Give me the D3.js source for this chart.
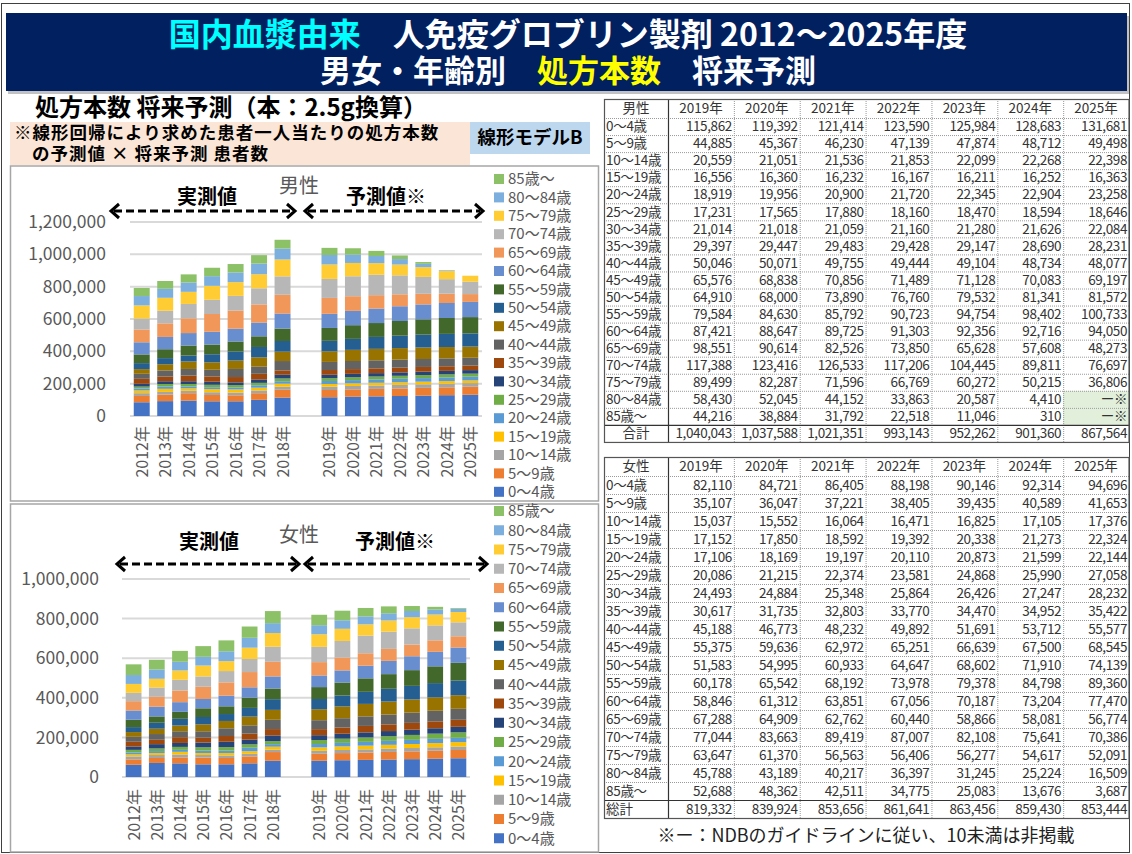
<!DOCTYPE html>
<html lang="ja">
<head>
<meta charset="UTF-8">
<title>処方本数 将来予測</title>
<script src="https://cdn.jsdelivr.net/npm/d3@7"></script>
<style>
  body { margin: 0; background: #fff; }
  svg { display: block; font-family: "Noto Sans CJK JP", "Noto Sans", sans-serif; }
</style>
</head>
<body>
<svg id="canvas" width="1132" height="854"></svg>
<script>
  const ages = ["0～4歳", "5～9歳", "10～14歳", "15～19歳", "20～24歳", "25～29歳", "30～34歳", "35～39歳", "40～44歳",
    "45～49歳", "50～54歳", "55～59歳", "60～64歳", "65～69歳", "70～74歳", "75～79歳", "80～84歳", "85歳～"];
  const years = ["2012年", "2013年", "2014年", "2015年", "2016年", "2017年", "2018年",
    "2019年", "2020年", "2021年", "2022年", "2023年", "2024年", "2025年"];
  const colors = ["#4472C4", "#ED7D31", "#A5A5A5", "#FFC000", "#5B9BD5", "#70AD47", "#264478", "#9E480E", "#636363",
    "#997300", "#255E91", "#43682B", "#698ED0", "#F1975A", "#B7B7B7", "#FFCD33", "#7CAFDD", "#8CC168"];

  // rows = age groups, columns = 2012..2025 (2012-2018, 2019-2025 from the table)
  const male = [
    [85000, 92000, 95000, 91000, 91000, 100000, 114000, 115862, 119392, 121414, 123590, 125984, 128683, 131681],
    [39000, 40000, 46000, 39000, 37000, 41000, 48000, 44885, 45367, 46230, 47139, 47874, 48712, 49498],
    [17000, 17000, 15000, 17000, 17000, 17000, 19000, 20559, 21051, 21536, 21853, 22099, 22268, 22398],
    [17000, 19000, 15000, 19000, 19000, 17000, 19000, 16556, 16360, 16232, 16167, 16211, 16252, 16363],
    [12000, 15000, 12000, 12000, 12000, 15000, 15000, 18919, 19956, 20900, 21720, 22345, 22904, 23258],
    [12000, 15000, 15000, 15000, 15000, 15000, 17000, 17231, 17565, 17880, 18160, 18470, 18594, 18646],
    [17000, 17000, 17000, 19000, 17000, 21000, 23000, 21014, 21018, 21059, 21160, 21280, 21626, 22084],
    [31000, 29000, 35000, 33000, 33000, 35000, 27000, 29397, 29447, 29483, 29428, 29147, 28690, 28231],
    [31000, 38000, 41000, 41000, 50000, 44000, 58000, 50046, 50071, 49755, 49444, 49104, 48734, 48077],
    [29000, 38000, 46000, 46000, 52000, 58000, 58000, 65576, 68838, 70856, 71489, 71128, 70083, 69197],
    [37000, 38000, 37000, 50000, 56000, 64000, 66000, 64910, 68000, 73890, 76760, 79532, 81341, 81572],
    [54000, 55000, 62000, 60000, 62000, 66000, 77000, 79584, 84630, 85792, 90723, 94754, 98402, 100733],
    [75000, 76000, 77000, 79000, 79000, 85000, 93000, 87421, 88647, 89725, 91303, 92356, 92716, 94050],
    [79000, 84000, 91000, 110000, 112000, 112000, 116000, 98551, 90614, 82526, 73850, 65628, 57608, 48273],
    [68000, 78000, 89000, 88000, 91000, 100000, 114000, 117388, 123416, 126533, 117206, 104445, 89811, 76697],
    [81000, 80000, 75000, 86000, 85000, 87000, 104000, 89499, 82287, 71596, 66769, 60272, 50215, 36806],
    [58000, 56000, 58000, 60000, 60000, 66000, 68000, 58430, 52045, 44152, 33863, 20587, 4410, null],
    [50000, 48000, 50000, 52000, 52000, 52000, 54000, 44216, 38884, 31792, 22518, 11046, 310, null]
  ];
  const female = [
    [62000, 71000, 69000, 64000, 64000, 69000, 82000, 82110, 84721, 86405, 88198, 90146, 92314, 94696],
    [27000, 25000, 30000, 34000, 32000, 35000, 44000, 35107, 36047, 37221, 38405, 39435, 40589, 41653],
    [15000, 15000, 15000, 13000, 13000, 13000, 12000, 15037, 15552, 16064, 16471, 16825, 17105, 17376],
    [10000, 10000, 13000, 10000, 12000, 13000, 15000, 17152, 17850, 18592, 19392, 20338, 21273, 22324],
    [10000, 10000, 10000, 12000, 12000, 18000, 13000, 17106, 18169, 19197, 20110, 20873, 21599, 22144],
    [13000, 13000, 15000, 17000, 18000, 17000, 15000, 20086, 21215, 22374, 23581, 24868, 25990, 27058],
    [17000, 22000, 20000, 24000, 27000, 24000, 29000, 24493, 24884, 25348, 25864, 26426, 27247, 28232],
    [24000, 22000, 29000, 25000, 29000, 30000, 32000, 30617, 31735, 32803, 33770, 34470, 34952, 35422],
    [25000, 29000, 30000, 32000, 39000, 42000, 47000, 45188, 46773, 48232, 49892, 51691, 53712, 55577],
    [24000, 27000, 29000, 35000, 37000, 44000, 50000, 55375, 59636, 62972, 65251, 66639, 67500, 68545],
    [25000, 30000, 34000, 37000, 35000, 44000, 54000, 51583, 54995, 60933, 64647, 68602, 71910, 74139],
    [37000, 32000, 35000, 44000, 39000, 52000, 54000, 60178, 65542, 68192, 73978, 79378, 84798, 89360],
    [47000, 49000, 49000, 47000, 54000, 52000, 61000, 58846, 61312, 63851, 67056, 70187, 73204, 77470],
    [47000, 50000, 59000, 62000, 67000, 77000, 74000, 67288, 64909, 62762, 60440, 58866, 58081, 56774],
    [42000, 47000, 54000, 52000, 57000, 66000, 76000, 77044, 83663, 89419, 87007, 82108, 75641, 70386],
    [45000, 44000, 47000, 55000, 50000, 57000, 69000, 63647, 61370, 56563, 56406, 56277, 54617, 52091],
    [45000, 47000, 44000, 44000, 50000, 50000, 50000, 45788, 43189, 40217, 36397, 31245, 25224, 16509],
    [54000, 49000, 55000, 54000, 55000, 57000, 61000, 52688, 48362, 42511, 34775, 25083, 13676, 3687]
  ];
  const maleTotals = [1040043, 1037588, 1021351, 993143, 952262, 901360, 867564];
  const femaleTotals = [819332, 839924, 853656, 861641, 863456, 859430, 853444];
  const forecastStart = 7;
  const maleTicks = [0, 200000, 400000, 600000, 800000, 1000000, 1200000];
  const femaleTicks = [0, 200000, 400000, 600000, 800000, 1000000];

  const svg = d3.select("#canvas");
  const fmt = d3.format(",");

  // outer frame
  svg.append("rect").attr("x", 1.5).attr("y", 3.5).attr("width", 1128).attr("height", 849)
      .attr("fill", "none").attr("stroke", "#404040").attr("stroke-width", 1);

  // title banner
  svg.append("rect").attr("x", 8).attr("y", 16).attr("width", 1121).attr("height", 78).attr("fill", "#9a9a9a").attr("opacity", 0.6);
  svg.append("rect").attr("x", 6).attr("y", 13).attr("width", 1121).attr("height", 78).attr("fill", "#002060");
  let t1 = svg.append("text").attr("x", 568).attr("y", 46).attr("text-anchor", "middle")
      .attr("font-size", 32).attr("font-weight", 700).attr("fill", "#fff");
  t1.append("tspan").attr("fill", "#00FFFF").text("国内血漿由来");
  t1.append("tspan").text("　人免疫グロブリン製剤 2012～2025年度");
  let t2 = svg.append("text").attr("x", 568).attr("y", 82).attr("text-anchor", "middle")
      .attr("font-size", 31).attr("font-weight", 700).attr("fill", "#fff");
  t2.append("tspan").text("男女・年齢別　");
  t2.append("tspan").attr("fill", "#FFFF00").text("処方本数");
  t2.append("tspan").text("　将来予測");

  // left headings
  svg.append("text").attr("x", 35).attr("y", 116).attr("font-size", 24).attr("font-weight", 700)
      .attr("fill", "#000").text("処方本数 将来予測（本：2.5g換算）");
  svg.append("rect").attr("x", 10).attr("y", 122).attr("width", 460).attr("height", 43).attr("fill", "#FBE5D6");
  svg.append("text").attr("x", 14).attr("y", 139).attr("font-size", 17.5).attr("font-weight", 700)
      .attr("letter-spacing", 1).text("※線形回帰により求めた患者一人当たりの処方本数");
  svg.append("text").attr("x", 32).attr("y", 160).attr("font-size", 17.5).attr("font-weight", 700)
      .attr("letter-spacing", 1).text("の予測値 × 将来予測 患者数");
  svg.append("rect").attr("x", 470).attr("y", 122).attr("width", 120).attr("height", 32).attr("fill", "#BDD7EE");
  svg.append("text").attr("x", 530).attr("y", 144).attr("text-anchor", "middle").attr("font-size", 18.5)
      .attr("font-weight", 700).text("線形モデルB");

  function arrow(g, x1, x2, y) {
    g.append("line").attr("x1", x1 + 3).attr("x2", x2 - 3).attr("y1", y).attr("y2", y)
        .attr("stroke", "#000").attr("stroke-width", 3).attr("stroke-dasharray", "8,4");
    g.append("path").attr("d", `M${x1 + 8},${y - 7}L${x1},${y}L${x1 + 8},${y + 7}`)
        .attr("fill", "none").attr("stroke", "#000").attr("stroke-width", 3);
    g.append("path").attr("d", `M${x2 - 8},${y - 7}L${x2},${y}L${x2 - 8},${y + 7}`)
        .attr("fill", "none").attr("stroke", "#000").attr("stroke-width", 3);
  }

  function drawChart(cfg) {
    const g = svg.append("g");
    g.append("rect").attr("x", 10.5).attr("y", cfg.top).attr("width", 588).attr("height", cfg.bottom - cfg.top)
        .attr("fill", "#fff").attr("stroke", "#A6A6A6").attr("stroke-width", 1.5);

    const cats = [...years.slice(0, forecastStart), " ", ...years.slice(forecastStart)];
    const x = d3.scaleBand().domain(cats).range(cfg.xRange).paddingInner(0.32).paddingOuter(0.16);
    const y = d3.scaleLinear().domain([0, cfg.ticks[cfg.ticks.length - 1]]).range(cfg.yRange);

    const rows = years.map((yr, i) => {
      const r = {year: yr};
      ages.forEach((a, j) => r[a] = cfg.data[j][i] == null ? 0 : cfg.data[j][i]);
      return r;
    });
    const series = d3.stack().keys(ages)(rows);

    // gridlines + y labels
    g.selectAll(".grid").data(cfg.ticks).join("line")
        .attr("x1", cfg.xRange[0]).attr("x2", cfg.xRange[1])
        .attr("y1", d => y(d)).attr("y2", d => y(d))
        .attr("stroke", "#D9D9D9").attr("stroke-width", 2);
    g.selectAll(".ylab").data(cfg.ticks).join("text")
        .attr("x", cfg.labelX).attr("y", d => y(d)).attr("dy", "0.35em")
        .attr("text-anchor", "end").attr("font-size", 17.5).attr("fill", "#595959")
        .text(d => fmt(d));

    g.selectAll(".layer").data(series).join("g")
        .attr("fill", (d, i) => colors[i])
        .selectAll("rect").data(d => d).join("rect")
        .attr("x", d => x(d.data.year)).attr("width", x.bandwidth())
        .attr("y", d => y(d[1])).attr("height", d => y(d[0]) - y(d[1]));

    // year labels (rotated)
    g.selectAll(".xlab").data(years).join("text")
        .attr("transform", d => `translate(${x(d) + x.bandwidth() / 2 + 6},${cfg.yRange[0] + cfg.xlabGap}) rotate(-90)`)
        .attr("text-anchor", "end").attr("font-size", 16).attr("fill", "#595959")
        .text(d => d);

    // chart texts and arrows
    g.append("text").attr("x", 299).attr("y", cfg.titleY).attr("text-anchor", "middle")
        .attr("font-size", 20).attr("fill", "#595959").text(cfg.title);
    g.append("text").attr("x", cfg.measX).attr("y", cfg.labY).attr("text-anchor", "middle")
        .attr("font-size", 20).attr("font-weight", 700).text("実測値");
    g.append("text").attr("x", cfg.predX).attr("y", cfg.labY).attr("text-anchor", "middle")
        .attr("font-size", 20).attr("font-weight", 700).text("予測値※");
    arrow(g, cfg.arrowL[0], cfg.arrowL[1], cfg.arrowY);
    arrow(g, cfg.arrowR[0], cfg.arrowR[1], cfg.arrowY);

    // legend (85歳～ at top)
    const leg = g.selectAll(".leg").data(ages.slice().reverse()).join("g")
        .attr("transform", (d, i) => `translate(494,${cfg.legTop + i * cfg.legStep})`);
    leg.append("rect").attr("x", 0).attr("y", -5).attr("width", 10).attr("height", 10)
        .attr("fill", d => colors[ages.indexOf(d)]);
    leg.append("text").attr("x", 14).attr("dy", "0.35em").attr("font-size", 15).attr("fill", "#595959")
        .text(d => d);
  }

  drawChart({
    data: male, ticks: maleTicks, top: 166, bottom: 501, xRange: [130, 482], yRange: [416, 222],
    labelX: 106, xlabGap: 10, title: "男性", titleY: 193, measX: 207, predX: 386, labY: 204,
    arrowL: [111, 295], arrowR: [305, 483], arrowY: 211, legTop: 179, legStep: 18.4
  });
  drawChart({
    data: female, ticks: femaleTicks, top: 504, bottom: 852, xRange: [122, 470], yRange: [777, 579],
    labelX: 99, xlabGap: 12, title: "女性", titleY: 542, measX: 209, predX: 395, labY: 549,
    arrowL: [117, 299], arrowR: [305, 487], arrowY: 564, legTop: 511, legStep: 19.25
  });

  // tables
  function drawTable(cfg) {
    const g = svg.append("g").attr("font-size", 13.5).attr("fill", "#333");
    const colX = d3.range(8).map(i => i === 0 ? 604 : 668 + (i - 1) * 65.86);
    const colW = i => i === 0 ? 64 : 65.86;
    const right = 1129;
    const rowTop = i => cfg.bodyTop + i * cfg.rowH;
    const fyears = years.slice(forecastStart);
    const bottom = rowTop(ages.length + 1);

    // green cells for hidden values
    ages.forEach((a, j) => fyears.forEach((yr, k) => {
      if (cfg.data[j][forecastStart + k] == null) {
        g.append("rect").attr("x", colX[k + 1]).attr("y", rowTop(j)).attr("width", colW(k + 1))
            .attr("height", cfg.rowH).attr("fill", "#E2EFDA");
      }
    }));

    // dotted row lines
    d3.range(0, ages.length).forEach(i => {
      g.append("line").attr("x1", 604).attr("x2", right).attr("y1", rowTop(i) + 0.5).attr("y2", rowTop(i) + 0.5)
          .attr("stroke", "#9a9a9a").attr("stroke-width", 1).attr("stroke-dasharray", "1,1");
    });
    // dotted column lines
    d3.range(2, 8).forEach(i => {
      g.append("line").attr("x1", colX[i] + 0.5).attr("x2", colX[i] + 0.5).attr("y1", cfg.top).attr("y2", bottom)
          .attr("stroke", "#9a9a9a").attr("stroke-width", 1).attr("stroke-dasharray", "1,1");
    });
    // solid lines
    g.append("line").attr("x1", 668.5).attr("x2", 668.5).attr("y1", cfg.top).attr("y2", bottom)
        .attr("stroke", "#333").attr("stroke-width", 1.2);
    g.append("line").attr("x1", 604).attr("x2", right).attr("y1", rowTop(ages.length) + 0.5)
        .attr("y2", rowTop(ages.length) + 0.5).attr("stroke", "#333").attr("stroke-width", 1.2);
    g.append("rect").attr("x", 604.5).attr("y", cfg.top + 0.5).attr("width", right - 604.5)
        .attr("height", bottom - cfg.top).attr("fill", "none").attr("stroke", "#555").attr("stroke-width", 1.2);

    // header
    const hy = (cfg.top + cfg.bodyTop) / 2;
    g.append("text").attr("x", 636).attr("y", hy).attr("dy", "0.35em").attr("text-anchor", "middle")
        .text(cfg.title);
    fyears.forEach((yr, k) => {
      g.append("text").attr("x", colX[k + 1] + colW(1) / 2).attr("y", hy).attr("dy", "0.35em")
          .attr("text-anchor", "middle").text(yr);
    });

    // body
    ages.forEach((a, j) => {
      const cy = rowTop(j) + cfg.rowH / 2;
      g.append("text").attr("x", 606).attr("y", cy).attr("dy", "0.35em").attr("letter-spacing", -0.3).text(a);
      fyears.forEach((yr, k) => {
        const v = cfg.data[j][forecastStart + k];
        g.append("text").attr("x", colX[k + 1] + colW(1) - 2).attr("y", cy).attr("dy", "0.35em")
            .attr("text-anchor", "end").attr("letter-spacing", -0.4)
            .text(v == null ? "ー※" : fmt(v));
      });
    });

    // totals
    const ty = rowTop(ages.length) + cfg.rowH / 2;
    g.append("text").attr("x", cfg.totalCenter ? 636 : 606).attr("y", ty).attr("dy", "0.35em")
        .attr("text-anchor", cfg.totalCenter ? "middle" : "start")
        .text(cfg.totalLabel);
    cfg.totals.forEach((v, k) => {
      g.append("text").attr("x", colX[k + 1] + colW(1) - 2).attr("y", ty).attr("dy", "0.35em")
          .attr("text-anchor", "end").attr("letter-spacing", -0.4).text(fmt(v));
    });
  }

  drawTable({data: male, totals: maleTotals, title: "男性", totalLabel: "合計", totalCenter: true,
    top: 99, bodyTop: 118, rowH: 17.05});
  drawTable({data: female, totals: femaleTotals, title: "女性", totalLabel: "総計", totalCenter: false,
    top: 457, bodyTop: 476, rowH: 18});

  svg.append("text").attr("x", 866).attr("y", 842).attr("text-anchor", "middle").attr("font-size", 18)
      .attr("fill", "#222").text("※ー：NDBのガイドラインに従い、10未満は非掲載");
</script>
</body>
</html>
